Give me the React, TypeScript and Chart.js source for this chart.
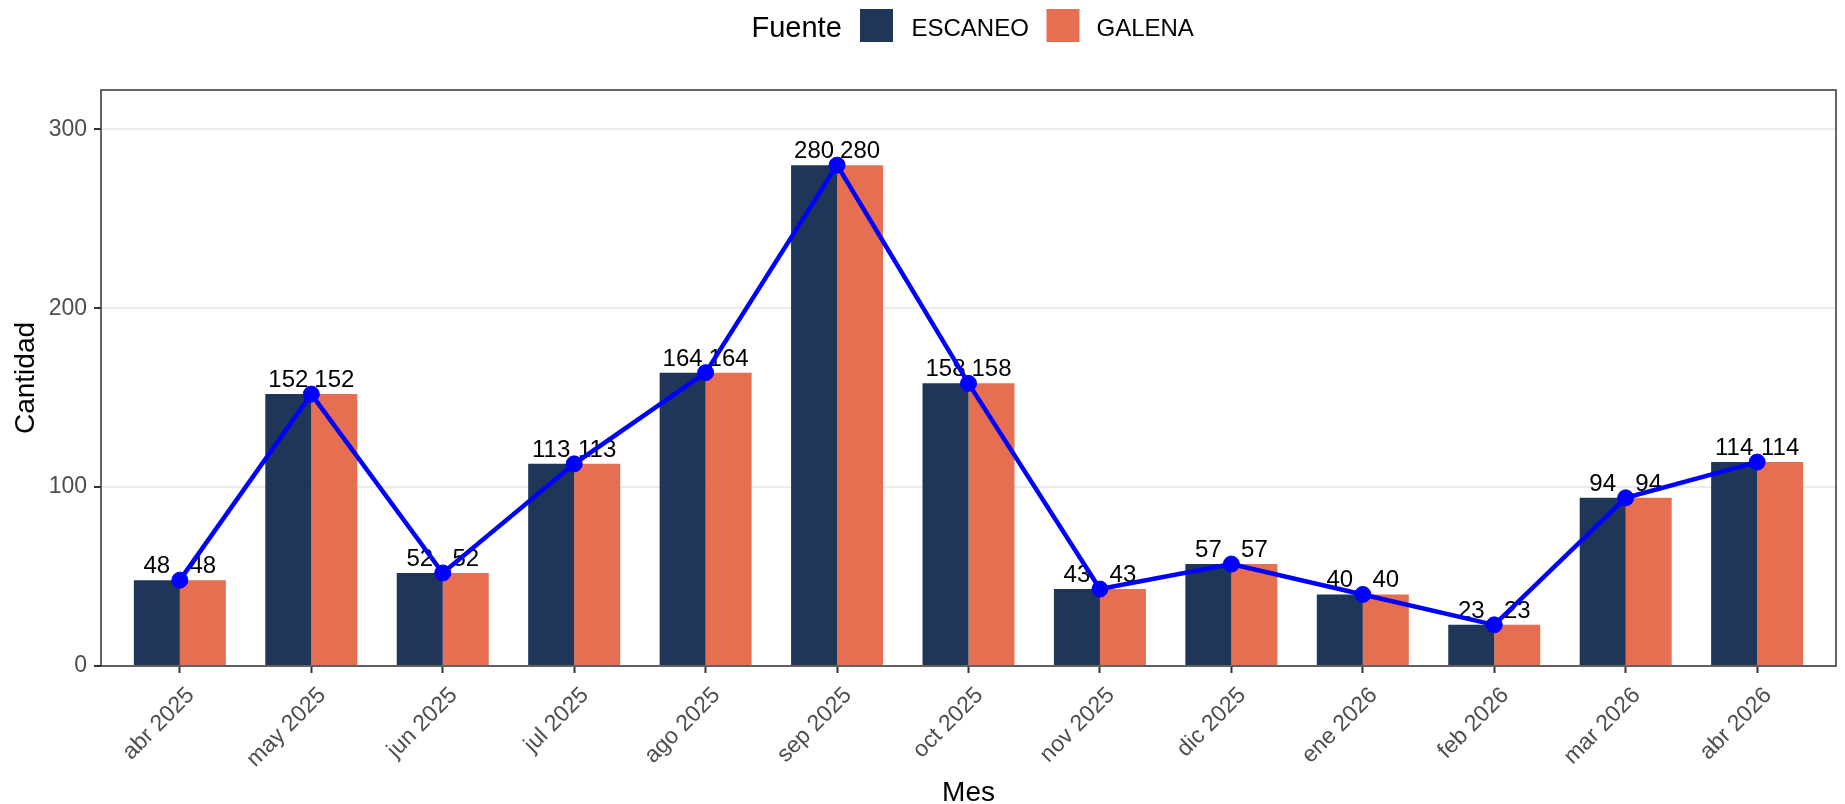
import React, { useEffect, useRef } from "react";
import { Chart, registerables } from "chart.js";

Chart.register(...registerables);

const months = [
  "abr 2025", "may 2025", "jun 2025", "jul 2025", "ago 2025", "sep 2025", "oct 2025",
  "nov 2025", "dic 2025", "ene 2026", "feb 2026", "mar 2026", "abr 2026",
];
const escaneo = [48, 152, 52, 113, 164, 280, 158, 43, 57, 40, 23, 94, 114];
const galena = [48, 152, 52, 113, 164, 280, 158, 43, 57, 40, 23, 94, 114];
const lineValues = [48, 152, 52, 113, 164, 280, 158, 43, 57, 40, 23, 94, 114];
const yTicks = [0, 100, 200, 300];
const seriesNames = ["ESCANEO", "GALENA"];
const legendTitle = "Fuente";

const FONT = "'Liberation Sans', Arial, Helvetica, sans-serif";
const DARK = "#1F3658";
const ORANGE = "#E76F51";

export default function App() {
  const ref = useRef<HTMLCanvasElement | null>(null);

  useEffect(() => {
    document.body.style.margin = "0";
    const canvas = ref.current!;
    Chart.defaults.font.family = FONT;

    const labelPlugin = {
      id: "barLabels",
      afterDatasetDraw(chart: any, args: any) {
        const ds = chart.data.datasets[args.index];
        if (ds.type === "line") return;
        const ctx = chart.ctx;
        ctx.save();
        ctx.font = `24px ${FONT}`;
        ctx.fillStyle = "#000000";
        ctx.textAlign = "center";
        ctx.textBaseline = "alphabetic";
        args.meta.data.forEach((el: any, i: number) => {
          const v = ds.data[i].y;
          ctx.fillText(String(v), el.x, el.y - 7);
        });
        ctx.restore();
      },
    };

    const framePlugin = {
      id: "frameLegend",
      afterDraw(chart: any) {
        const { ctx, chartArea } = chart;
        ctx.save();
        ctx.strokeStyle = "#333333";
        ctx.lineWidth = 1.5;
        ctx.strokeRect(chartArea.left, chartArea.top, chartArea.right - chartArea.left, chartArea.bottom - chartArea.top);

        // legend
        ctx.textAlign = "left";
        ctx.textBaseline = "alphabetic";
        ctx.fillStyle = "#000000";
        ctx.font = `29px ${FONT}`;
        ctx.fillText(legendTitle, 751.5, 37);
        const colors = [DARK, ORANGE];
        const boxX = [860, 1046.5];
        const textX = [911.5, 1096.5];
        ctx.font = `24px ${FONT}`;
        for (let i = 0; i < 2; i++) {
          ctx.fillStyle = colors[i];
          ctx.fillRect(boxX[i], 9, 33, 33);
          ctx.fillStyle = "#000000";
          ctx.fillText(seriesNames[i], textX[i], 35.5);
        }
        ctx.restore();
      },
    };

    const chart = new Chart(canvas, {
      type: "bar",
      data: {
        datasets: [
          {
            type: "line" as any,
            label: "Total",
            data: lineValues.map((v, i) => ({ x: i, y: v })),
            borderColor: "#0000FF",
            backgroundColor: "#0000FF",
            borderWidth: 4.5,
            pointRadius: 8,
            pointBorderWidth: 1,
            pointBackgroundColor: "#0000FF",
            pointBorderColor: "#0000FF",
            tension: 0,
            order: 0,
          },
          {
            label: seriesNames[0],
            data: escaneo.map((v, i) => ({ x: i, y: v })),
            backgroundColor: DARK,
            categoryPercentage: 0.7,
            barPercentage: 1.0,
            order: 1,
          },
          {
            label: seriesNames[1],
            data: galena.map((v, i) => ({ x: i, y: v })),
            backgroundColor: ORANGE,
            categoryPercentage: 0.7,
            barPercentage: 1.0,
            order: 1,
          },
        ] as any,
      },
      options: {
        responsive: false,
        animation: false,
        devicePixelRatio: 1,
        layout: { padding: { top: 90, right: 2, bottom: 0, left: 0 } },
        plugins: {
          legend: { display: false },
          tooltip: { enabled: false },
        },
        scales: {
          x: {
            type: "linear",
            min: -0.6,
            max: 12.6,
            offset: false,
            afterBuildTicks: (scale: any) => {
              scale.ticks = months.map((_, i) => ({ value: i }));
            },
            afterFit: (scale: any) => {
              scale.height = 138;
              scale.paddingLeft = 0;
              scale.paddingRight = 0;
            },
            ticks: {
              autoSkip: false,
              maxRotation: 45,
              minRotation: 45,
              padding: 9,
              labelOffset: 11,
              color: "#4D4D4D",
              font: { size: 23, family: FONT },
              callback: (v: any) => months[v as number],
            },
            grid: {
              display: true,
              offset: false,
              drawOnChartArea: false,
              drawTicks: true,
              tickLength: 7,
              tickColor: "#333333",
              tickWidth: 2,
            },
            border: { display: false },
            title: {
              display: true,
              text: "Mes",
              color: "#000000",
              font: { size: 28, family: FONT, lineHeight: 0.8 },
              padding: { top: 0, bottom: 0 },
            },
          },
          y: {
            type: "linear",
            min: 0,
            max: 322,
            afterBuildTicks: (scale: any) => {
              scale.ticks = yTicks.map((v) => ({ value: v }));
            },
            afterFit: (scale: any) => {
              scale.width = 101;
              scale.paddingTop = 0;
              scale.paddingBottom = 0;
            },
            ticks: {
              padding: 7,
              color: "#4D4D4D",
              font: { size: 23, family: FONT },
              callback: (v: any) => String(v),
            },
            grid: {
              color: "#EBEBEB",
              lineWidth: 2,
              drawTicks: true,
              tickLength: 7,
              tickColor: "#333333",
              tickWidth: 2,
            },
            border: { display: false },
            title: {
              display: true,
              text: "Cantidad",
              color: "#000000",
              font: { size: 28, family: FONT, lineHeight: 1 },
              padding: { top: 12, bottom: 0 },
            },
          },
        },
      },
      plugins: [labelPlugin, framePlugin],
    });

    return () => chart.destroy();
  }, []);

  return (
    <canvas
      ref={ref}
      width={1845}
      height={804}
      style={{ display: "block", width: "1845px", height: "804px" }}
    />
  );
}
